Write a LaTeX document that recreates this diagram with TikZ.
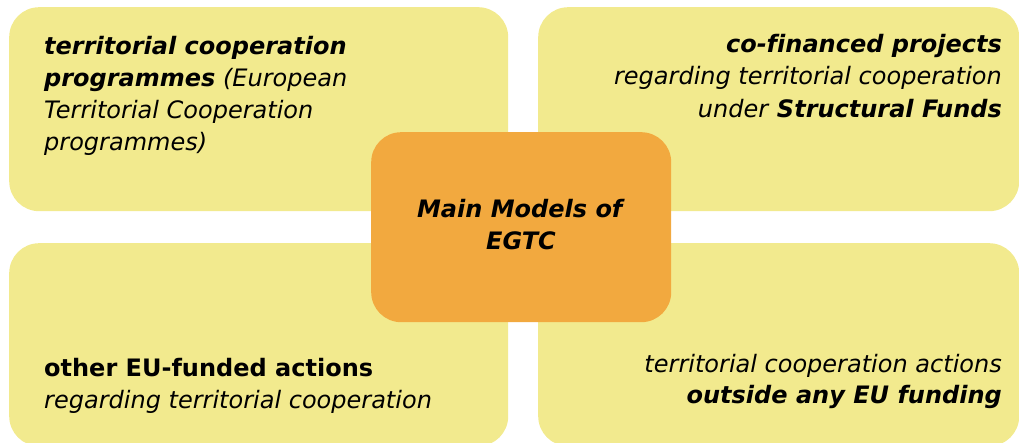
\documentclass[tikz,border=0pt]{standalone}
\usepackage{fontspec}
\setmainfont[Ligatures=NoCommon]{DejaVu Sans}
\definecolor{boxyellow}{RGB}{242,234,142}
\definecolor{boxorange}{RGB}{242,169,63}
\newcommand{\bi}[1]{\textbf{\textit{#1}}}
\begin{document}
\begin{tikzpicture}[x=1pt,y=-1pt,
  panel/.style={fill=boxyellow, draw=none, rounded corners=30pt, inner sep=0pt, anchor=north west},
  hub/.style={fill=boxorange, draw=none, rounded corners=30pt, inner sep=0pt, anchor=north west},
  txt/.style={inner sep=0pt, font=\fontsize{24}{33}\selectfont}]
\useasboundingbox (0,0) rectangle (1019,443);
\node[panel, minimum width=499pt, minimum height=204pt] (tl) at (9,7) {};
\node[panel, minimum width=481pt, minimum height=204pt] (tr) at (538,7) {};
\node[panel, minimum width=499pt, minimum height=203pt] (bl) at (9,243) {};
\node[panel, minimum width=481pt, minimum height=203pt] (br) at (538,243) {};
\node[hub, minimum width=300pt, minimum height=190pt] (hub) at (371,132) {};
% top left
\node[txt, anchor=base west] (tl1) at (44,55) {\bi{territorial cooperation}};
\node[txt, anchor=base west] (tl2) at (44,87) {\bi{programmes} \textit{(European}};
\node[txt, anchor=base west] (tl3) at (44,119) {\textit{Territorial Cooperation}};
\node[txt, anchor=base west] (tl4) at (44,151) {\textit{programmes)}};
% top right
\node[txt, anchor=base east] (tr1) at (1002,53) {\bi{co-f\kern0pt inanced projects}};
\node[txt, anchor=base east] (tr2) at (1002,85) {\textit{regarding territorial cooperation}};
\node[txt, anchor=base east] (tr3) at (1002,118) {\textit{under} \bi{Structural Funds}};
% bottom left
\node[txt, anchor=base west] (bl1) at (44,376) {\textbf{other EU-funded actions}};
\node[txt, anchor=base west] (bl2) at (44,408) {\textit{regarding territorial cooperation}};
% bottom right
\node[txt, anchor=base east] (br1) at (1002,372) {\textit{territorial cooperation actions}};
\node[txt, anchor=base east] (br2) at (1002,403) {\bi{outside any EU funding}};
% centre
\node[txt, anchor=base] (c1) at (521,218) {\bi{Main Models of}};
\node[txt, anchor=base] (c2) at (521,250) {\bi{EGTC}};
\end{tikzpicture}
\end{document}
